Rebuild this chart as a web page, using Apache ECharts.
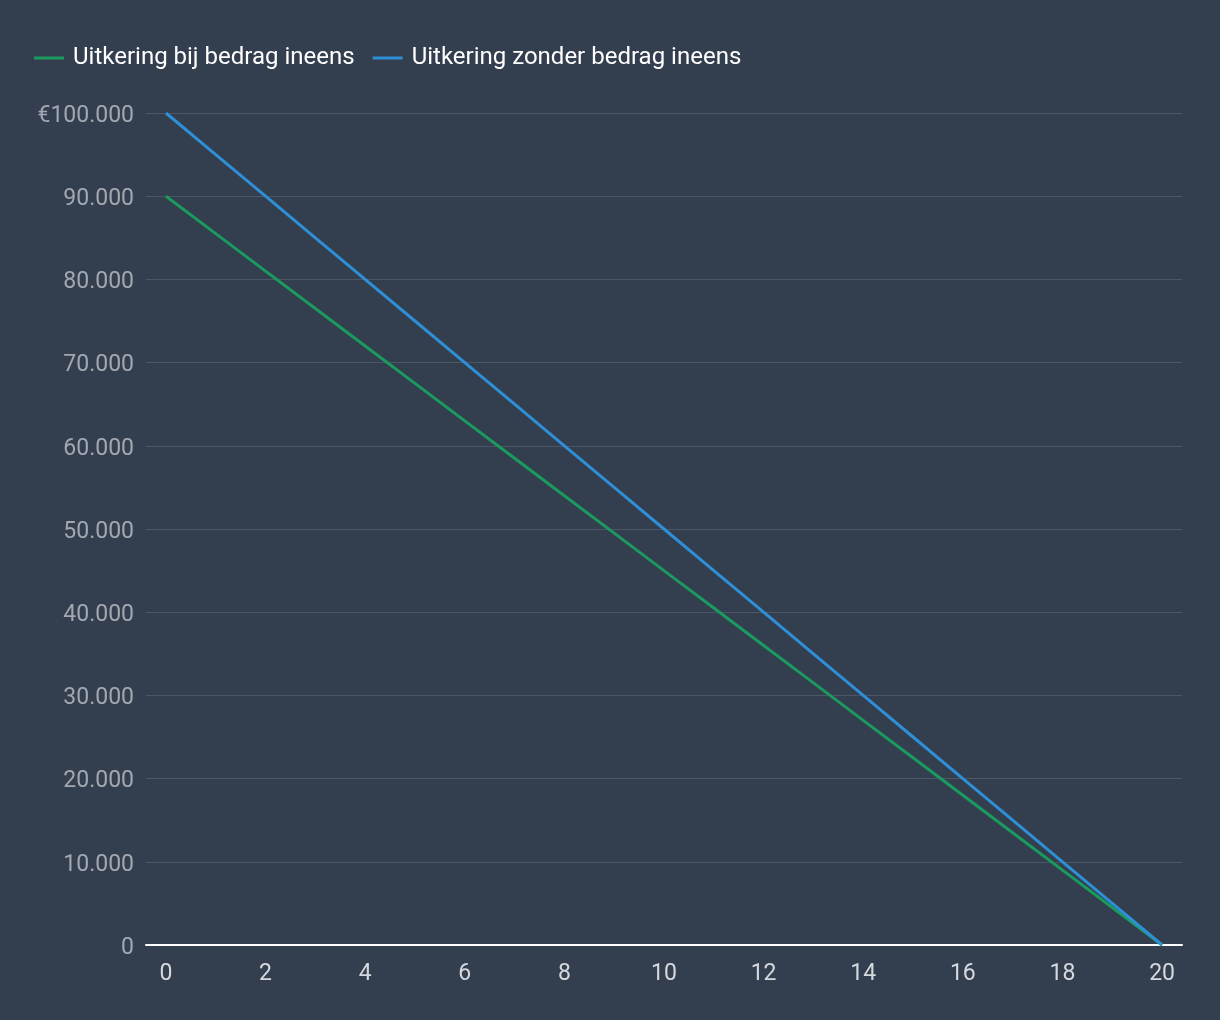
<!DOCTYPE html>
<html>
<head>
<meta charset="utf-8">
<script src="https://cdn.jsdelivr.net/npm/echarts@6/dist/echarts.min.js"></script>
<style>
html,body{margin:0;padding:0;background:#333e4f;}
#c{width:1220px;height:1020px;}
</style>
</head>
<body>
<div id="c"></div>
<script>
var years = [0,1,2,3,4,5,6,7,8,9,10,11,12,13,14,15,16,17,18,19,20];
var metBedrag = [90000,85500,81000,76500,72000,67500,63000,58500,54000,49500,45000,40500,36000,31500,27000,22500,18000,13500,9000,4500,0];
var zonderBedrag = [100000,95000,90000,85000,80000,75000,70000,65000,60000,55000,50000,45000,40000,35000,30000,25000,20000,15000,10000,5000,0];
var xTickLabels = [0,2,4,6,8,10,12,14,16,18,20];
var seriesNames = ['Uitkering bij bedrag ineens','Uitkering zonder bedrag ineens'];

function pairs(vals){ return years.map(function(x,i){ return [x, vals[i]]; }); }
function fmtY(v){
  var s = String(v).replace(/\B(?=(\d{3})+(?!\d))/g,'.');
  return '{a|' + (v === 100000 ? '€' + s : s) + '}';
}

var chart = echarts.init(document.getElementById('c'));
chart.setOption({
  backgroundColor:'#333e4f',
  animation:false,
  textStyle:{fontFamily:'Roboto'},
  legend:{
    left:29, top:41,
    itemWidth:30, itemHeight:3, itemGap:18,
    icon:'rect',
    textStyle:{color:'#ffffff', fontSize:24, fontFamily:'Roboto', padding:[0,0,0,4]},
    data:seriesNames
  },
  grid:{left:146, right:38, top:113, bottom:75, containLabel:false},
  xAxis:{
    type:'value', min:-0.4, max:20.4,
    axisLine:{show:true, onZero:false, lineStyle:{color:'#ffffff', width:2}},
    axisTick:{show:false},
    splitLine:{show:false},
    axisLabel:{customValues:xTickLabels, color:'#d6d9de', fontSize:23, margin:18, fontFamily:'Roboto'}
  },
  yAxis:{
    type:'value', min:0, max:100000, interval:10000,
    axisLine:{show:false}, axisTick:{show:false},
    splitLine:{lineStyle:{color:'#4b5667', width:1}},
    axisLabel:{formatter:fmtY, color:'#a3a8b0', fontSize:23, margin:12, fontFamily:'Roboto',
      rich:{a:{color:'#a3a8b0', fontSize:23, fontFamily:'Roboto', padding:[6,0,0,0]}}}
  },
  series:[
    {name:seriesNames[0], type:'line', data:pairs(metBedrag), showSymbol:false, symbol:'none',
     color:'#1a9a5e', lineStyle:{width:3, color:'#1a9a5e'}},
    {name:seriesNames[1], type:'line', data:pairs(zonderBedrag), showSymbol:false, symbol:'none',
     color:'#2f8fd6', lineStyle:{width:3, color:'#2f8fd6'}}
  ]
});
</script>
</body>
</html>
